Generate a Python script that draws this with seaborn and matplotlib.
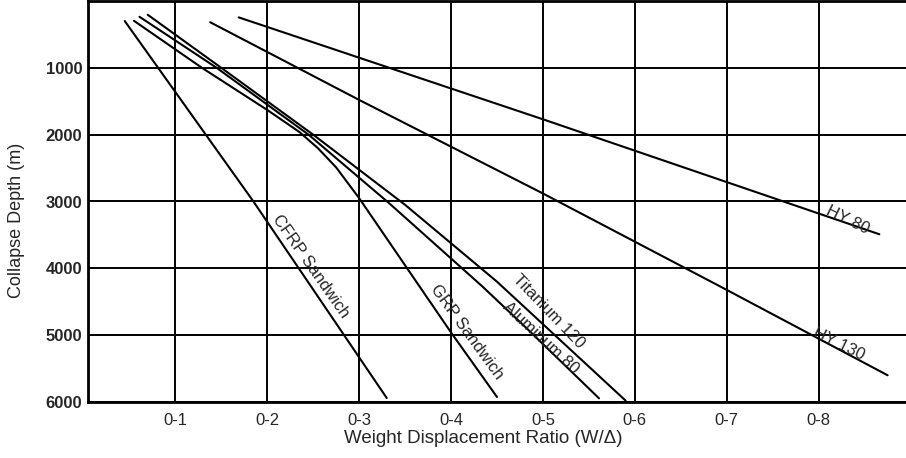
import pandas as pd
import matplotlib
matplotlib.use('Agg')
import matplotlib.pyplot as plt
import seaborn as sns

# Collapse depth vs weight displacement ratio
cfrp_x = [0.045, 0.185, 0.33]
cfrp_y = [300, 3000, 5940]
grp_x = [0.055, 0.129, 0.2, 0.235, 0.255, 0.275, 0.3, 0.4, 0.45]
grp_y = [296, 1000, 1630, 1960, 2200, 2490, 2950, 4960, 5925]
al_x = [0.061, 0.145, 0.245, 0.333, 0.434, 0.484, 0.561]
al_y = [236, 1000, 2000, 3030, 4270, 4920, 5945]
ti_x = [0.07, 0.15, 0.25, 0.35, 0.45, 0.59]
ti_y = [206, 1000, 2000, 3050, 4200, 5980]
hy130_x = [0.138, 0.3, 0.5, 0.7, 0.875]
hy130_y = [318, 1480, 2880, 4323, 5600]
hy80_x = [0.169, 0.5, 0.866]
hy80_y = [245, 1770, 3490]

materials = ['CFRP Sandwich', 'GRP Sandwich', 'Aluminum 80', 'Titanium 120', 'HY 130', 'HY 80']
series_x = [cfrp_x, grp_x, al_x, ti_x, hy130_x, hy80_x]
series_y = [cfrp_y, grp_y, al_y, ti_y, hy130_y, hy80_y]

# label placement (x, depth, angle)
label_x = [0.247, 0.417, 0.498, 0.506, 0.822, 0.831]
label_y = [3970, 4950, 5045, 4645, 5140, 3270]
label_rot = [-55, -54, -43, -46, -26, -26]

x_ticks = [0.1, 0.2, 0.3, 0.4, 0.5, 0.6, 0.7, 0.8]
x_ticklabels = ['0-1', '0-2', '0-3', '0-4', '0-5', '0-6', '0-7', '0-8']
y_ticks = [1000, 2000, 3000, 4000, 5000, 6000]

rows = []
for name, xs, ys in zip(materials, series_x, series_y):
    for xv, yv in zip(xs, ys):
        rows.append({'material': name, 'ratio': xv, 'depth': yv})
df = pd.DataFrame(rows)

sns.set_style('white')
plt.rcParams['font.family'] = ['Liberation Sans', 'DejaVu Sans']

fig = plt.figure(figsize=(9.06, 4.58), dpi=100)
ax = fig.add_axes([88 / 906, 56 / 458, 1 - 88 / 906, 1 - 57 / 458])

sns.lineplot(data=df, x='ratio', y='depth', hue='material', palette=['black'] * 6,
             estimator=None, sort=False, legend=False, linewidth=1.5, ax=ax)

ax.set_xlim(0.005, 0.895)
ax.set_ylim(6000, 0)
ax.set_xticks(x_ticks)
ax.set_xticklabels(x_ticklabels, fontsize=12)
ax.set_yticks(y_ticks)
ax.set_yticklabels([str(v) for v in y_ticks], fontsize=12, fontweight='bold')
ax.tick_params(axis='x', length=0, pad=8)
ax.tick_params(axis='y', length=0, pad=4)
ax.grid(True, color='black', linewidth=1.4)
ax.set_axisbelow(True)

for side in ['left', 'bottom', 'top']:
    ax.spines[side].set_color('black')
    ax.spines[side].set_linewidth(2)
ax.spines['right'].set_visible(False)

ax.set_xlabel('Weight Displacement Ratio (W/Δ)', fontsize=13.5)
ax.set_ylabel('Collapse Depth (m)', fontsize=13)
ax.xaxis.set_label_coords(0.483, -0.07)
ax.yaxis.set_label_coords(-0.077, 0.454)

for name, lx, ly, rot in zip(materials, label_x, label_y, label_rot):
    ax.text(lx, ly, name, rotation=rot, rotation_mode='anchor',
            ha='center', va='center', fontsize=12)

fig.savefig('out.png', dpi=100)
